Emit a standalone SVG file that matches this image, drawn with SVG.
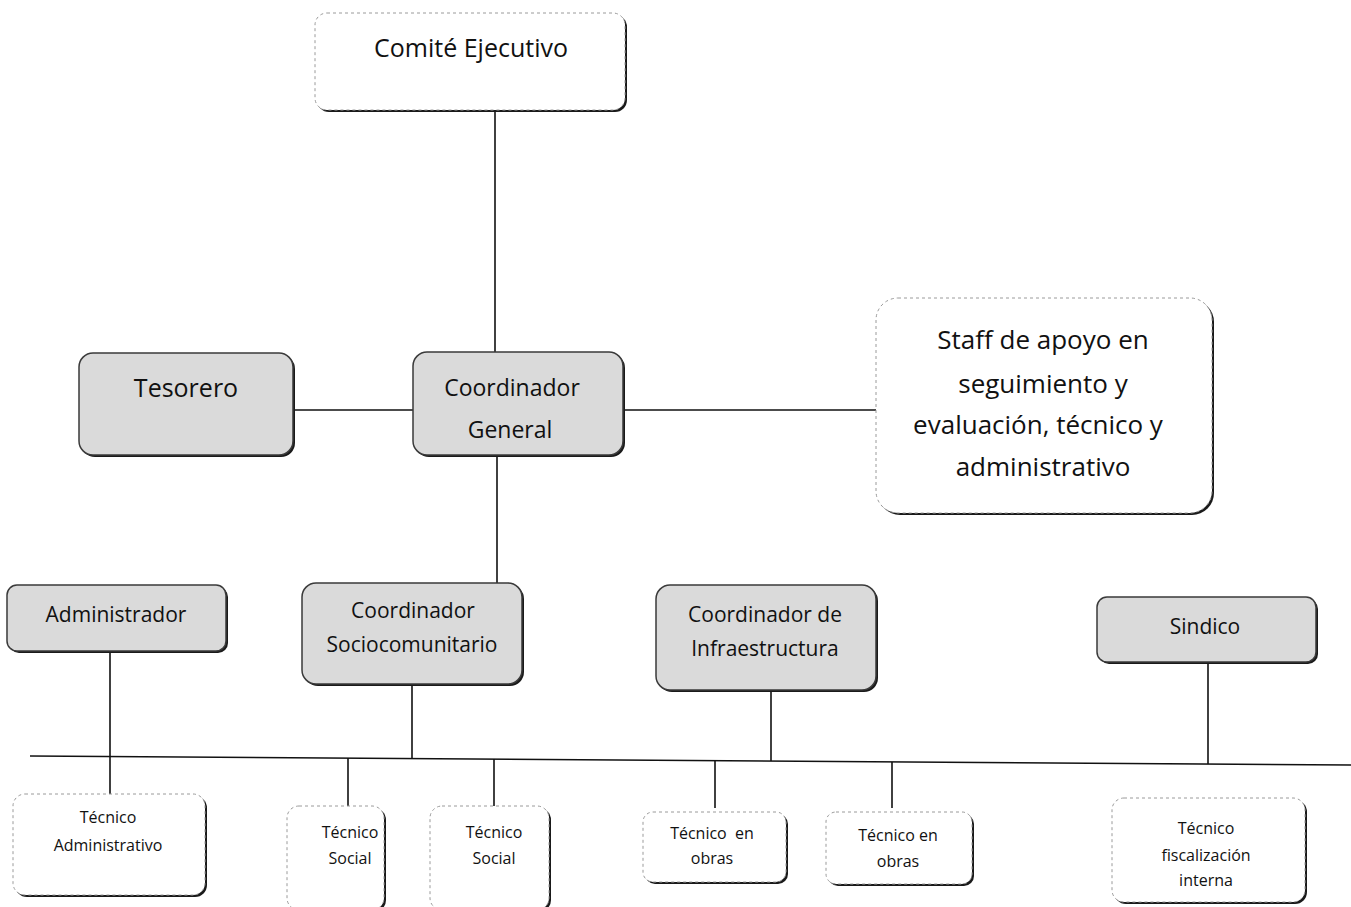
<svg xmlns="http://www.w3.org/2000/svg" width="1351" height="907" viewBox="0 0 1351 907">
<style>
text{font-family:"Open Sans","Noto Sans","Liberation Sans",sans-serif;fill:#111;text-anchor:middle}
.sh{fill:#1a1a1a}
.gray{fill:#dadada;stroke:#3a3a3a;stroke-width:1.5}
.white{fill:#fff;stroke:#9a9a9a;stroke-width:1;stroke-dasharray:3 3}
.con line{stroke:#111;stroke-width:1.6}
.t25{font-size:25px}
.t22{font-size:23px}
.t26{font-size:26px}
.mid{font-size:21px}
.sm{font-size:16px}
</style>
<rect width="1351" height="907" fill="#fff"/>
<g class="con">
<line x1="495" y1="110" x2="495" y2="352"/>
<line x1="293" y1="410" x2="413" y2="410"/>
<line x1="623" y1="410" x2="878" y2="410"/>
<line x1="497" y1="455" x2="497" y2="583"/>
<line x1="30" y1="756" x2="1351" y2="765"/>
<line x1="110" y1="651" x2="110" y2="795"/>
<line x1="412" y1="684" x2="412" y2="758"/>
<line x1="771" y1="690" x2="771" y2="761"/>
<line x1="1208" y1="662" x2="1208" y2="764"/>
<line x1="348" y1="758" x2="348" y2="808"/>
<line x1="494" y1="759" x2="494" y2="806"/>
<line x1="715" y1="761" x2="715" y2="808"/>
<line x1="892" y1="762" x2="892" y2="808"/>
</g>
<g id="comite">
<rect class="sh" x="317" y="15" width="310" height="97" rx="12"/>
<rect class="white" x="315" y="13" width="310" height="97" rx="12"/>
<text class="t25" x="471" y="57">Comité Ejecutivo</text>
</g>
<g id="tesorero">
<rect class="sh" x="81" y="355" width="214" height="102" rx="14"/>
<rect class="gray" x="79" y="353" width="214" height="102" rx="14"/>
<text class="t25" x="186" y="397">Tesorero</text>
</g>
<g id="coordinador-general">
<rect class="sh" x="415" y="354" width="210" height="103" rx="14"/>
<rect class="gray" x="413" y="352" width="210" height="103" rx="14"/>
<text class="t22" x="512" y="396">Coordinador</text>
<text class="t22" x="510" y="438">General</text>
</g>
<g id="staff">
<rect class="sh" x="878" y="300" width="336" height="215" rx="22"/>
<rect class="white" x="876" y="298" width="336" height="215" rx="22"/>
<text class="t26" x="1043" y="349">Staff de apoyo en</text>
<text class="t26" x="1043" y="393">seguimiento y</text>
<text class="t26" x="1038" y="434">evaluación, técnico y</text>
<text class="t26" x="1043" y="476">administrativo</text>
</g>
<g id="administrador">
<rect class="sh" x="9" y="587" width="219" height="66" rx="10"/>
<rect class="gray" x="7" y="585" width="219" height="66" rx="10"/>
<text class="mid" x="116" y="622">Administrador</text>
</g>
<g id="coord-socio">
<rect class="sh" x="304" y="585" width="220" height="101" rx="14"/>
<rect class="gray" x="302" y="583" width="220" height="101" rx="14"/>
<text class="mid" x="413" y="618">Coordinador</text>
<text class="mid" x="412" y="652">Sociocomunitario</text>
</g>
<g id="coord-infra">
<rect class="sh" x="658" y="587" width="220" height="105" rx="14"/>
<rect class="gray" x="656" y="585" width="220" height="105" rx="14"/>
<text class="mid" x="765" y="622">Coordinador de</text>
<text class="mid" x="765" y="656">Infraestructura</text>
</g>
<g id="sindico">
<rect class="sh" x="1099" y="599" width="219" height="65" rx="10"/>
<rect class="gray" x="1097" y="597" width="219" height="65" rx="10"/>
<text class="mid" x="1205" y="634">Sindico</text>
</g>
<g id="tec-admin">
<rect class="sh" x="15" y="796" width="192" height="101" rx="12"/>
<rect class="white" x="13" y="794" width="192" height="101" rx="12"/>
<text class="sm" x="108" y="823">Técnico</text>
<text class="sm" x="108" y="851">Administrativo</text>
</g>
<g id="tec-social-1">
<rect class="sh" x="289" y="808" width="97" height="104" rx="12"/>
<rect class="white" x="287" y="806" width="97" height="104" rx="12"/>
<text class="sm" x="350" y="838">Técnico</text>
<text class="sm" x="350" y="864">Social</text>
</g>
<g id="tec-social-2">
<rect class="sh" x="432" y="808" width="119" height="104" rx="12"/>
<rect class="white" x="430" y="806" width="119" height="104" rx="12"/>
<text class="sm" x="494" y="838">Técnico</text>
<text class="sm" x="494" y="864">Social</text>
</g>
<g id="tec-obras-1">
<rect class="sh" x="645" y="814" width="143" height="70" rx="10"/>
<rect class="white" x="643" y="812" width="143" height="70" rx="10"/>
<text class="sm" x="712" y="839" xml:space="preserve">Técnico  en</text>
<text class="sm" x="712" y="864">obras</text>
</g>
<g id="tec-obras-2">
<rect class="sh" x="828" y="814" width="146" height="72" rx="10"/>
<rect class="white" x="826" y="812" width="146" height="72" rx="10"/>
<text class="sm" x="898" y="841">Técnico en</text>
<text class="sm" x="898" y="867">obras</text>
</g>
<g id="tec-fiscal">
<rect class="sh" x="1114" y="800" width="193" height="104" rx="12"/>
<rect class="white" x="1112" y="798" width="193" height="104" rx="12"/>
<text class="sm" x="1206" y="834">Técnico</text>
<text class="sm" x="1206" y="861">fiscalización</text>
<text class="sm" x="1206" y="886">interna</text>
</g>
</svg>
